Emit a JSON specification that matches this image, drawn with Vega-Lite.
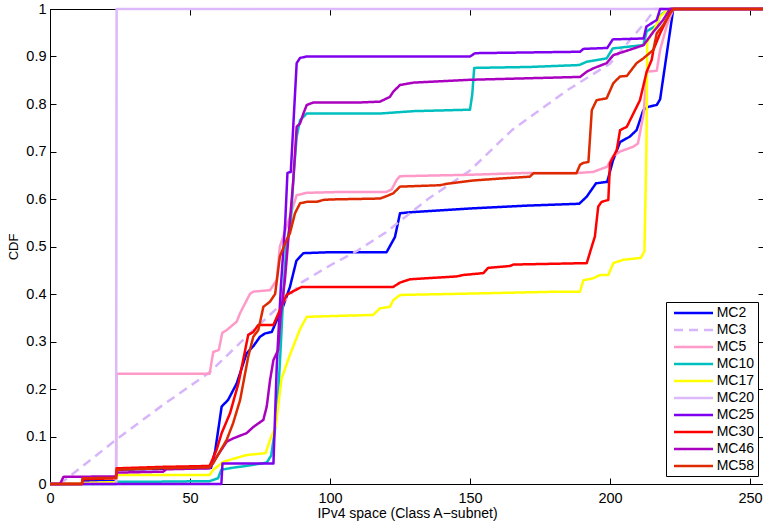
{
  "$schema": "https://vega.github.io/schema/vega-lite/v6.json",
  "width": 714,
  "height": 475,
  "autosize": {"type": "none"},
  "padding": {"left": 50, "top": 9, "right": 0, "bottom": 40},
  "background": "white",
  "config": {
    "view": {"stroke": null},
    "font": "Liberation Sans",
    "axis": {"grid": false, "domainColor": "black", "domainWidth": 1, "tickColor": "black", "tickWidth": 1, "labelColor": "black", "titleColor": "black", "labelFont": "Liberation Sans", "titleFont": "Liberation Sans", "titleFontWeight": "normal", "labelFontSize": 14.5, "titleFontSize": 14, "labelFlush": false}
  },
  "data": {"values": [
    {"s":"MC2","x":0,"y":0},{"s":"MC2","x":11.5,"y":0},{"s":"MC2","x":11.6,"y":0.006},{"s":"MC2","x":23.6,"y":0.006},{"s":"MC2","x":23.8,"y":0.03},{"s":"MC2","x":40,"y":0.032},{"s":"MC2","x":57.5,"y":0.034},{"s":"MC2","x":59,"y":0.07},{"s":"MC2","x":61.3,"y":0.163},{"s":"MC2","x":63.6,"y":0.177},{"s":"MC2","x":66.7,"y":0.212},{"s":"MC2","x":70.2,"y":0.275},{"s":"MC2","x":72.6,"y":0.29},{"s":"MC2","x":75,"y":0.31},{"s":"MC2","x":76.8,"y":0.317},{"s":"MC2","x":79.2,"y":0.32},{"s":"MC2","x":81,"y":0.345},{"s":"MC2","x":83,"y":0.37},{"s":"MC2","x":85.7,"y":0.415},{"s":"MC2","x":88,"y":0.47},{"s":"MC2","x":90.5,"y":0.486},{"s":"MC2","x":100,"y":0.488},{"s":"MC2","x":120.2,"y":0.488},{"s":"MC2","x":123.2,"y":0.52},{"s":"MC2","x":125,"y":0.57},{"s":"MC2","x":128.5,"y":0.572},{"s":"MC2","x":150,"y":0.58},{"s":"MC2","x":170,"y":0.586},{"s":"MC2","x":189,"y":0.59},{"s":"MC2","x":191.7,"y":0.605},{"s":"MC2","x":195,"y":0.633},{"s":"MC2","x":199,"y":0.636},{"s":"MC2","x":201,"y":0.68},{"s":"MC2","x":203.6,"y":0.72},{"s":"MC2","x":207,"y":0.731},{"s":"MC2","x":209.5,"y":0.745},{"s":"MC2","x":211.9,"y":0.787},{"s":"MC2","x":213.6,"y":0.794},{"s":"MC2","x":216.7,"y":0.798},{"s":"MC2","x":217.9,"y":0.81},{"s":"MC2","x":222.6,"y":1},{"s":"MC2","x":255,"y":1},
    {"s":"MC3","x":3.5,"y":0},{"s":"MC3","x":24,"y":0.095},{"s":"MC3","x":40,"y":0.165},{"s":"MC3","x":57,"y":0.235},{"s":"MC3","x":71,"y":0.315},{"s":"MC3","x":82,"y":0.375},{"s":"MC3","x":90,"y":0.425},{"s":"MC3","x":100,"y":0.46},{"s":"MC3","x":110,"y":0.492},{"s":"MC3","x":120,"y":0.53},{"s":"MC3","x":135,"y":0.6},{"s":"MC3","x":150,"y":0.66},{"s":"MC3","x":165,"y":0.745},{"s":"MC3","x":185,"y":0.83},{"s":"MC3","x":200,"y":0.885},{"s":"MC3","x":213,"y":0.975},{"s":"MC3","x":216,"y":1},{"s":"MC3","x":255,"y":1},
    {"s":"MC5","x":0,"y":0},{"s":"MC5","x":23.6,"y":0.004},{"s":"MC5","x":23.8,"y":0.232},{"s":"MC5","x":57,"y":0.232},{"s":"MC5","x":58.3,"y":0.278},{"s":"MC5","x":60.3,"y":0.282},{"s":"MC5","x":61.5,"y":0.318},{"s":"MC5","x":63.1,"y":0.324},{"s":"MC5","x":66.7,"y":0.342},{"s":"MC5","x":67.9,"y":0.36},{"s":"MC5","x":71.4,"y":0.4},{"s":"MC5","x":72.6,"y":0.405},{"s":"MC5","x":78.6,"y":0.408},{"s":"MC5","x":81,"y":0.43},{"s":"MC5","x":82.1,"y":0.5},{"s":"MC5","x":85.7,"y":0.563},{"s":"MC5","x":88.1,"y":0.608},{"s":"MC5","x":91.7,"y":0.613},{"s":"MC5","x":105,"y":0.615},{"s":"MC5","x":120.2,"y":0.615},{"s":"MC5","x":122,"y":0.62},{"s":"MC5","x":123.8,"y":0.64},{"s":"MC5","x":125,"y":0.648},{"s":"MC5","x":150,"y":0.651},{"s":"MC5","x":171,"y":0.655},{"s":"MC5","x":189,"y":0.655},{"s":"MC5","x":194,"y":0.657},{"s":"MC5","x":199,"y":0.668},{"s":"MC5","x":201,"y":0.69},{"s":"MC5","x":203.6,"y":0.7},{"s":"MC5","x":208.3,"y":0.71},{"s":"MC5","x":210,"y":0.717},{"s":"MC5","x":212,"y":0.78},{"s":"MC5","x":213.1,"y":0.868},{"s":"MC5","x":216.7,"y":0.87},{"s":"MC5","x":217.9,"y":0.914},{"s":"MC5","x":220.2,"y":0.963},{"s":"MC5","x":222.6,"y":1},{"s":"MC5","x":255,"y":1},
    {"s":"MC10","x":0,"y":0},{"s":"MC10","x":23.6,"y":0},{"s":"MC10","x":23.8,"y":0.005},{"s":"MC10","x":40,"y":0.005},{"s":"MC10","x":57,"y":0.006},{"s":"MC10","x":60,"y":0.012},{"s":"MC10","x":61.2,"y":0.03},{"s":"MC10","x":65,"y":0.034},{"s":"MC10","x":70,"y":0.038},{"s":"MC10","x":77.4,"y":0.045},{"s":"MC10","x":79,"y":0.06},{"s":"MC10","x":80.5,"y":0.12},{"s":"MC10","x":81.5,"y":0.19},{"s":"MC10","x":82.5,"y":0.3},{"s":"MC10","x":83.5,"y":0.42},{"s":"MC10","x":84.5,"y":0.507},{"s":"MC10","x":86,"y":0.55},{"s":"MC10","x":87,"y":0.65},{"s":"MC10","x":88.1,"y":0.731},{"s":"MC10","x":89.3,"y":0.766},{"s":"MC10","x":91.7,"y":0.78},{"s":"MC10","x":117.9,"y":0.78},{"s":"MC10","x":130,"y":0.785},{"s":"MC10","x":150,"y":0.788},{"s":"MC10","x":150.8,"y":0.82},{"s":"MC10","x":151.5,"y":0.876},{"s":"MC10","x":171.4,"y":0.878},{"s":"MC10","x":189,"y":0.882},{"s":"MC10","x":191.7,"y":0.889},{"s":"MC10","x":198.8,"y":0.896},{"s":"MC10","x":201,"y":0.917},{"s":"MC10","x":211.9,"y":0.924},{"s":"MC10","x":213.1,"y":0.953},{"s":"MC10","x":216.7,"y":0.966},{"s":"MC10","x":217.9,"y":0.987},{"s":"MC10","x":221.4,"y":1},{"s":"MC10","x":255,"y":1},
    {"s":"MC17","x":0,"y":0},{"s":"MC17","x":23.6,"y":0.004},{"s":"MC17","x":23.8,"y":0.019},{"s":"MC17","x":57,"y":0.019},{"s":"MC17","x":58.3,"y":0.03},{"s":"MC17","x":62,"y":0.047},{"s":"MC17","x":70.2,"y":0.061},{"s":"MC17","x":77,"y":0.065},{"s":"MC17","x":78.6,"y":0.093},{"s":"MC17","x":80.6,"y":0.121},{"s":"MC17","x":82.7,"y":0.222},{"s":"MC17","x":85.7,"y":0.272},{"s":"MC17","x":89.3,"y":0.326},{"s":"MC17","x":91.7,"y":0.352},{"s":"MC17","x":115.4,"y":0.356},{"s":"MC17","x":117.9,"y":0.37},{"s":"MC17","x":121.4,"y":0.373},{"s":"MC17","x":122.6,"y":0.387},{"s":"MC17","x":125,"y":0.398},{"s":"MC17","x":151,"y":0.401},{"s":"MC17","x":182,"y":0.405},{"s":"MC17","x":189.3,"y":0.405},{"s":"MC17","x":190.5,"y":0.429},{"s":"MC17","x":194,"y":0.433},{"s":"MC17","x":196.4,"y":0.44},{"s":"MC17","x":199.4,"y":0.44},{"s":"MC17","x":201.2,"y":0.465},{"s":"MC17","x":204.7,"y":0.472},{"s":"MC17","x":211,"y":0.476},{"s":"MC17","x":212.3,"y":0.49},{"s":"MC17","x":213,"y":0.7},{"s":"MC17","x":213.3,"y":0.93},{"s":"MC17","x":216,"y":0.96},{"s":"MC17","x":218,"y":0.985},{"s":"MC17","x":221,"y":1},{"s":"MC17","x":255,"y":1},
    {"s":"MC20","x":0,"y":0},{"s":"MC20","x":23.6,"y":0},{"s":"MC20","x":23.8,"y":1},{"s":"MC20","x":255,"y":1},
    {"s":"MC25","x":0,"y":0},{"s":"MC25","x":61.2,"y":0},{"s":"MC25","x":61.6,"y":0.043},{"s":"MC25","x":79.8,"y":0.043},{"s":"MC25","x":81,"y":0.25},{"s":"MC25","x":82.5,"y":0.42},{"s":"MC25","x":84,"y":0.55},{"s":"MC25","x":84.8,"y":0.655},{"s":"MC25","x":86,"y":0.657},{"s":"MC25","x":88.1,"y":0.886},{"s":"MC25","x":89.3,"y":0.897},{"s":"MC25","x":91.7,"y":0.9},{"s":"MC25","x":150,"y":0.9},{"s":"MC25","x":151.8,"y":0.907},{"s":"MC25","x":189.3,"y":0.91},{"s":"MC25","x":190.5,"y":0.916},{"s":"MC25","x":199,"y":0.918},{"s":"MC25","x":201,"y":0.936},{"s":"MC25","x":212,"y":0.938},{"s":"MC25","x":213,"y":0.963},{"s":"MC25","x":216.7,"y":0.977},{"s":"MC25","x":217.9,"y":1},{"s":"MC25","x":255,"y":1},
    {"s":"MC30","x":0,"y":0},{"s":"MC30","x":11.4,"y":0},{"s":"MC30","x":11.6,"y":0.01},{"s":"MC30","x":23.6,"y":0.012},{"s":"MC30","x":23.8,"y":0.033},{"s":"MC30","x":40,"y":0.036},{"s":"MC30","x":57,"y":0.038},{"s":"MC30","x":59.5,"y":0.072},{"s":"MC30","x":61.3,"y":0.107},{"s":"MC30","x":64.3,"y":0.149},{"s":"MC30","x":67.3,"y":0.212},{"s":"MC30","x":70.8,"y":0.314},{"s":"MC30","x":72.6,"y":0.32},{"s":"MC30","x":74.4,"y":0.335},{"s":"MC30","x":79.8,"y":0.335},{"s":"MC30","x":82.1,"y":0.366},{"s":"MC30","x":84.5,"y":0.398},{"s":"MC30","x":86.3,"y":0.404},{"s":"MC30","x":89.9,"y":0.415},{"s":"MC30","x":122.6,"y":0.415},{"s":"MC30","x":125,"y":0.424},{"s":"MC30","x":128.6,"y":0.431},{"s":"MC30","x":145.2,"y":0.437},{"s":"MC30","x":147.6,"y":0.44},{"s":"MC30","x":154.8,"y":0.444},{"s":"MC30","x":156.5,"y":0.455},{"s":"MC30","x":164.3,"y":0.459},{"s":"MC30","x":165.5,"y":0.462},{"s":"MC30","x":191.7,"y":0.465},{"s":"MC30","x":193.5,"y":0.5},{"s":"MC30","x":194.6,"y":0.521},{"s":"MC30","x":195.8,"y":0.584},{"s":"MC30","x":197,"y":0.594},{"s":"MC30","x":199.4,"y":0.598},{"s":"MC30","x":200,"y":0.675},{"s":"MC30","x":202.4,"y":0.703},{"s":"MC30","x":203.6,"y":0.745},{"s":"MC30","x":206,"y":0.752},{"s":"MC30","x":210.7,"y":0.808},{"s":"MC30","x":213.1,"y":0.868},{"s":"MC30","x":214.9,"y":0.893},{"s":"MC30","x":215.5,"y":0.914},{"s":"MC30","x":217.9,"y":0.949},{"s":"MC30","x":220.2,"y":0.977},{"s":"MC30","x":222,"y":1},{"s":"MC30","x":255,"y":1},
    {"s":"MC46","x":0,"y":0},{"s":"MC46","x":3.6,"y":0},{"s":"MC46","x":4.8,"y":0.015},{"s":"MC46","x":23.4,"y":0.016},{"s":"MC46","x":23.9,"y":0.024},{"s":"MC46","x":40.4,"y":0.026},{"s":"MC46","x":41.6,"y":0.031},{"s":"MC46","x":57,"y":0.033},{"s":"MC46","x":59.5,"y":0.057},{"s":"MC46","x":63.1,"y":0.089},{"s":"MC46","x":65.4,"y":0.096},{"s":"MC46","x":70.2,"y":0.107},{"s":"MC46","x":72.6,"y":0.12},{"s":"MC46","x":76.2,"y":0.135},{"s":"MC46","x":77.4,"y":0.163},{"s":"MC46","x":78.6,"y":0.219},{"s":"MC46","x":79.8,"y":0.261},{"s":"MC46","x":81.5,"y":0.282},{"s":"MC46","x":82.3,"y":0.35},{"s":"MC46","x":83.9,"y":0.43},{"s":"MC46","x":85.1,"y":0.514},{"s":"MC46","x":86.9,"y":0.64},{"s":"MC46","x":88.1,"y":0.752},{"s":"MC46","x":89.3,"y":0.759},{"s":"MC46","x":90.5,"y":0.78},{"s":"MC46","x":91.7,"y":0.798},{"s":"MC46","x":94,"y":0.803},{"s":"MC46","x":110,"y":0.803},{"s":"MC46","x":117.9,"y":0.805},{"s":"MC46","x":121.4,"y":0.815},{"s":"MC46","x":122.6,"y":0.826},{"s":"MC46","x":125,"y":0.84},{"s":"MC46","x":129.8,"y":0.845},{"s":"MC46","x":150,"y":0.851},{"s":"MC46","x":189.3,"y":0.857},{"s":"MC46","x":191.7,"y":0.868},{"s":"MC46","x":194,"y":0.875},{"s":"MC46","x":198.8,"y":0.886},{"s":"MC46","x":201.2,"y":0.903},{"s":"MC46","x":207,"y":0.914},{"s":"MC46","x":212,"y":0.924},{"s":"MC46","x":215.5,"y":0.952},{"s":"MC46","x":219,"y":0.977},{"s":"MC46","x":221.4,"y":1},{"s":"MC46","x":255,"y":1},
    {"s":"MC58","x":0,"y":0},{"s":"MC58","x":11.4,"y":0},{"s":"MC58","x":11.7,"y":0.012},{"s":"MC58","x":23.6,"y":0.013},{"s":"MC58","x":23.8,"y":0.03},{"s":"MC58","x":40,"y":0.033},{"s":"MC58","x":57,"y":0.035},{"s":"MC58","x":58.3,"y":0.044},{"s":"MC58","x":63.1,"y":0.093},{"s":"MC58","x":65.4,"y":0.128},{"s":"MC58","x":67.9,"y":0.177},{"s":"MC58","x":70.8,"y":0.268},{"s":"MC58","x":72.6,"y":0.31},{"s":"MC58","x":74.4,"y":0.324},{"s":"MC58","x":76.2,"y":0.373},{"s":"MC58","x":78.6,"y":0.384},{"s":"MC58","x":80.4,"y":0.4},{"s":"MC58","x":82.1,"y":0.479},{"s":"MC58","x":84.5,"y":0.514},{"s":"MC58","x":85.7,"y":0.528},{"s":"MC58","x":87.5,"y":0.57},{"s":"MC58","x":89.3,"y":0.591},{"s":"MC58","x":91.7,"y":0.594},{"s":"MC58","x":95.2,"y":0.594},{"s":"MC58","x":97.6,"y":0.598},{"s":"MC58","x":100,"y":0.599},{"s":"MC58","x":117.9,"y":0.601},{"s":"MC58","x":120.2,"y":0.606},{"s":"MC58","x":122.6,"y":0.612},{"s":"MC58","x":125,"y":0.626},{"s":"MC58","x":139.3,"y":0.629},{"s":"MC58","x":141.7,"y":0.632},{"s":"MC58","x":151.2,"y":0.639},{"s":"MC58","x":160.7,"y":0.643},{"s":"MC58","x":171.4,"y":0.647},{"s":"MC58","x":172.6,"y":0.654},{"s":"MC58","x":188,"y":0.654},{"s":"MC58","x":189.3,"y":0.672},{"s":"MC58","x":190.5,"y":0.676},{"s":"MC58","x":192.3,"y":0.678},{"s":"MC58","x":193.5,"y":0.787},{"s":"MC58","x":195.2,"y":0.808},{"s":"MC58","x":198.8,"y":0.812},{"s":"MC58","x":201.2,"y":0.844},{"s":"MC58","x":203.6,"y":0.858},{"s":"MC58","x":206,"y":0.859},{"s":"MC58","x":209.5,"y":0.886},{"s":"MC58","x":211.9,"y":0.896},{"s":"MC58","x":215.5,"y":0.914},{"s":"MC58","x":216.7,"y":0.949},{"s":"MC58","x":219,"y":0.966},{"s":"MC58","x":221.4,"y":0.99},{"s":"MC58","x":222.6,"y":1},{"s":"MC58","x":255,"y":1}
  ]},
  "layer": [
    {
      "mark": {"type": "line", "strokeWidth": 2.5, "strokeJoin": "round", "clip": false},
      "encoding": {
        "x": {"field": "x", "type": "quantitative", "scale": {"domain": [0, 255], "nice": false, "zero": false},
          "axis": {"orient": "bottom", "values": [0, 50, 100, 150, 200, 250], "format": "d", "tickSize": -6, "labelPadding": 13, "title": "IPv4 space (Class A−subnet)", "titlePadding": 2}},
        "y": {"field": "y", "type": "quantitative", "scale": {"domain": [0, 1], "nice": false},
          "axis": {"orient": "left", "values": [0, 0.1, 0.2, 0.3, 0.4, 0.5, 0.6, 0.7, 0.8, 0.9, 1], "format": ".1~f", "tickSize": -6, "labelPadding": 10, "title": "CDF", "titleFontSize": 13, "titlePadding": 5}},
        "color": {"field": "s", "type": "nominal",
          "scale": {"domain": ["MC2","MC3","MC5","MC10","MC17","MC20","MC25","MC30","MC46","MC58"],
                    "range": ["#0000FF","#D7B5FA","#FF99C8","#00BFBF","#FFFF00","#DCB9FB","#7F00EE","#FF0000","#AA00C0","#DD2A00"]},
          "legend": {"title": null, "orient": "none", "legendX": 616, "legendY": 293, "symbolType": "M-3,0H3", "symbolSize": 169, "symbolStrokeWidth": 2.5, "labelFontSize": 14, "labelFont": "Liberation Sans", "labelColor": "black", "padding": 3, "rowPadding": 2, "symbolOffset": 16.5, "labelOffset": 15.2, "strokeColor": "black", "fillColor": "white"}},
        "strokeDash": {"field": "s", "type": "nominal",
          "scale": {"domain": ["MC2","MC3","MC5","MC10","MC17","MC20","MC25","MC30","MC46","MC58"],
                    "range": [[1,0],[9,6],[1,0],[1,0],[1,0],[1,0],[1,0],[1,0],[1,0],[1,0]]},
          "legend": {"title": null, "orient": "none", "legendX": 616, "legendY": 293, "symbolType": "M-3,0H3", "symbolSize": 169, "symbolStrokeWidth": 2.5, "labelFontSize": 14, "labelFont": "Liberation Sans", "labelColor": "black", "padding": 3, "rowPadding": 2, "symbolOffset": 16.5, "labelOffset": 15.2, "strokeColor": "black", "fillColor": "white"}}
      }
    },
    {
      "mark": {"type": "point", "opacity": 0},
      "encoding": {
        "x": {"field": "x", "type": "quantitative", "axis": {"orient": "top", "values": [0, 50, 100, 150, 200, 250], "labels": false, "tickSize": -6, "title": null}},
        "y": {"field": "y", "type": "quantitative", "axis": {"orient": "right", "values": [0, 0.1, 0.2, 0.3, 0.4, 0.5, 0.6, 0.7, 0.8, 0.9, 1], "labels": false, "tickSize": -6, "title": null}}
      }
    }
  ],
  "resolve": {"axis": {"x": "independent", "y": "independent"}}
}
